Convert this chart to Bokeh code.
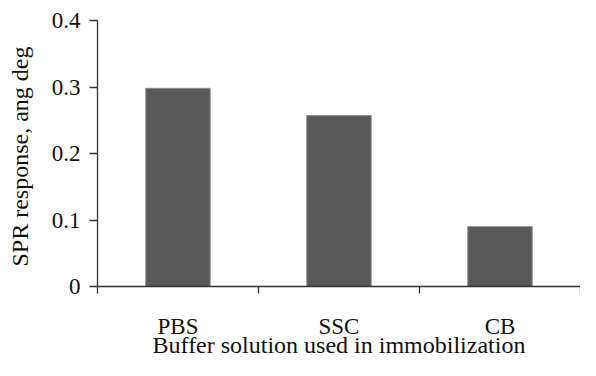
from bokeh.plotting import figure
from bokeh.models import Range1d, FixedTicker, ColumnDataSource
from bokeh.embed import file_html
from bokeh.resources import INLINE

categories = ["PBS", "SSC", "CB"]
values = [0.298, 0.257, 0.09]
y_ticks = [0, 0.1, 0.2, 0.3, 0.4]
y_tick_labels = ["0", "0.1", "0.2", "0.3", "0.4"]
x_title = "Buffer solution used in immobilization"
y_title = "SPR response, ang  deg"

xs = [i + 0.5 for i in range(len(categories))]
src = ColumnDataSource(dict(x=xs, top=values, cat=categories))

FONT = "Liberation Serif"

p = figure(width=580, height=360, output_backend="svg", toolbar_location=None,
           x_range=Range1d(0, len(categories)), y_range=Range1d(0, 0.4),
           min_border_left=97, min_border_right=0, min_border_top=20, min_border_bottom=70)
p.outline_line_color = None
p.xgrid.visible = False
p.ygrid.visible = False
p.background_fill_color = "white"
p.border_fill_color = "white"

p.vbar(x="x", top="top", width=0.4, bottom=0, source=src,
       fill_color="#595959", line_color="#8a8a8a", line_width=1)

# x axis
xa = p.xaxis[0]
xa.ticker = FixedTicker(ticks=xs, minor_ticks=list(range(len(categories) + 1)))
xa.major_label_overrides = {x: c for x, c in zip(xs, categories)}
xa.major_tick_out = 0
xa.major_tick_in = 0
xa.minor_tick_out = 7
xa.minor_tick_in = 0
xa.minor_tick_line_color = "#333333"
xa.axis_line_color = "#333333"
xa.axis_line_width = 1.3
xa.minor_tick_line_width = 1.3
xa.major_label_text_font = FONT
xa.major_label_text_font_size = "23px"
xa.major_label_text_color = "#111111"
xa.major_label_text_line_height = 1.0
xa.major_label_standoff = 20
xa.axis_label = x_title
xa.axis_label_text_font = FONT
xa.axis_label_text_font_size = "24px"
xa.axis_label_text_font_style = "normal"
xa.axis_label_text_color = "#111111"
xa.axis_label_text_line_height = 1.0
xa.axis_label_standoff = -10

# y axis
ya = p.yaxis[0]
ya.ticker = FixedTicker(ticks=y_ticks, minor_ticks=[])
ya.major_label_overrides = {t: l for t, l in zip(y_ticks, y_tick_labels)}
ya.major_tick_out = 8
ya.major_tick_in = 0
ya.major_tick_line_color = "#333333"
ya.major_tick_line_width = 1.3
ya.axis_line_color = "#333333"
ya.axis_line_width = 1.3
ya.major_label_text_font = FONT
ya.major_label_text_font_size = "23px"
ya.major_label_text_color = "#111111"
ya.major_label_standoff = 9
ya.axis_label = y_title
ya.axis_label_text_font = FONT
ya.axis_label_text_font_size = "24px"
ya.axis_label_text_font_style = "normal"
ya.axis_label_text_color = "#111111"
ya.axis_label_standoff = 16

open("out.html", "w").write(file_html(p, INLINE))
